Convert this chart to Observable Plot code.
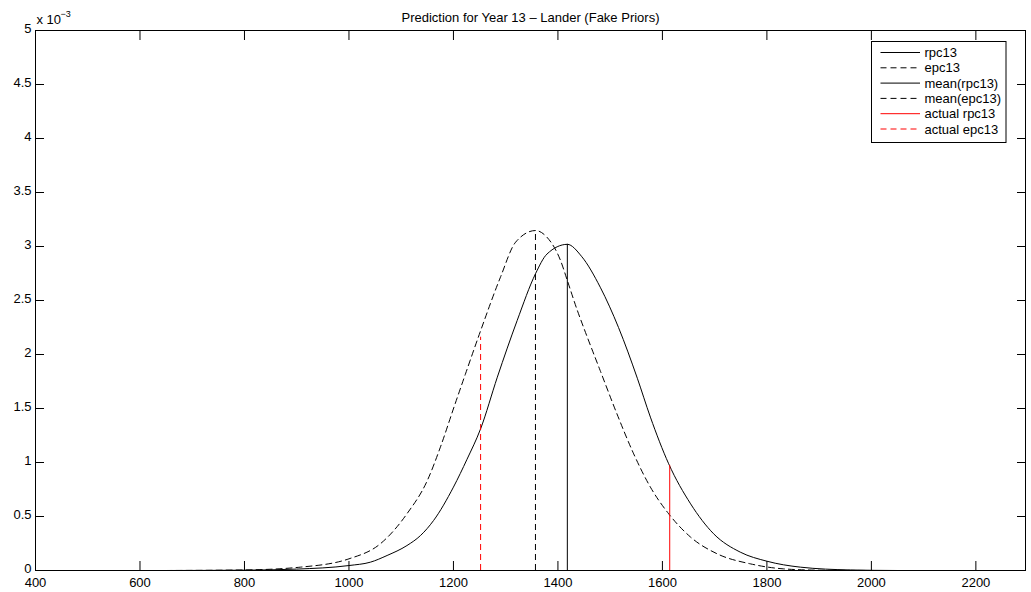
<!DOCTYPE html>
<html>
<head>
<meta charset="utf-8">
<script src="https://cdn.jsdelivr.net/npm/d3@7"></script>
<script src="https://cdn.jsdelivr.net/npm/@observablehq/plot@0.6"></script>
<style>
  html, body { margin: 0; padding: 0; background: #fff; }
  #wrap { position: relative; width: 1031px; height: 592px; font-family: "Liberation Sans", Arial, Helvetica, sans-serif; }
  #legend { position: absolute; left: 0; top: 0; pointer-events: none; }
</style>
</head>
<body>
<div id="wrap"></div>
<script>
// ---- data (density values in units of 1e-3) ----
const titleText = "Prediction for Year 13 \u2013 Lander (Fake Priors)";
const xTicks = [400, 600, 800, 1000, 1200, 1400, 1600, 1800, 2000, 2200];
const xTickLabels = ["400", "600", "800", "1000", "1200", "1400", "1600", "1800", "2000", "2200"];
const yTicks = [0, 0.5, 1, 1.5, 2, 2.5, 3, 3.5, 4, 4.5, 5];
const yTickLabels = ["0", "0.5", "1", "1.5", "2", "2.5", "3", "3.5", "4", "4.5", "5"];

const rpcX = [650, 800, 900, 1000, 1041, 1073, 1111, 1137, 1162, 1200, 1226, 1252, 1284, 1322, 1357, 1379, 1418, 1445, 1481, 1516, 1552, 1577, 1612, 1654, 1698, 1749, 1800, 1864, 1960, 2050];
const rpcY = [0, 0.003, 0.013, 0.046, 0.077, 0.139, 0.231, 0.324, 0.463, 0.772, 1.03, 1.312, 1.79, 2.315, 2.747, 2.93, 3.02, 2.91, 2.623, 2.25, 1.78, 1.42, 0.988, 0.617, 0.34, 0.17, 0.086, 0.031, 0.005, 0];

const epcX = [650, 800, 907, 1000, 1060, 1111, 1150, 1175, 1201, 1223, 1252, 1290, 1319, 1357, 1379, 1405, 1418, 1437, 1450, 1481, 1513, 1545, 1577, 1612, 1654, 1705, 1768, 1832, 1900, 2000];
const epcY = [0, 0.005, 0.031, 0.108, 0.247, 0.525, 0.833, 1.142, 1.512, 1.82, 2.22, 2.716, 3.04, 3.148, 3.086, 2.87, 2.685, 2.41, 2.24, 1.85, 1.45, 1.08, 0.772, 0.525, 0.309, 0.154, 0.062, 0.015, 0.003, 0];

const meanRpcX = 1418, meanRpcTop = 3.02;
const meanEpcX = 1357, meanEpcTop = 3.148;
const actualRpcX = 1614, actualRpcTop = 0.972;
const actualEpcX = 1252, actualEpcTop = 2.16;

const legendLabels = ["rpc13", "epc13", "mean(rpc13)", "mean(epc13)", "actual rpc13", "actual epc13"];

// ---- build tables ----
const rpc = rpcX.map((x, i) => ({x, y: rpcY[i]}));
const epc = epcX.map((x, i) => ({x, y: epcY[i]}));

const font = "Liberation Sans, Arial, Helvetica, sans-serif";
const dash = "6,4";

const chart = Plot.plot({
  width: 1031,
  height: 592,
  marginLeft: 35,
  marginRight: 6,
  marginTop: 30,
  marginBottom: 22,
  style: {fontFamily: font, fontSize: "13px", color: "black", background: "white", overflow: "visible"},
  x: {domain: [400, 2295]},
  y: {domain: [0, 5]},
  marks: [
    Plot.line(rpc, {x: "x", y: "y", stroke: "black", strokeWidth: 1, curve: "monotone-x"}),
    Plot.line(epc, {x: "x", y: "y", stroke: "black", strokeWidth: 1, strokeDasharray: dash, curve: "monotone-x"}),
    Plot.ruleX([meanRpcX], {x: d => d, y1: 0, y2: meanRpcTop, stroke: "black", strokeWidth: 1}),
    Plot.ruleX([meanEpcX], {x: d => d, y1: 0, y2: meanEpcTop, stroke: "black", strokeWidth: 1, strokeDasharray: dash}),
    Plot.ruleX([actualRpcX], {x: d => d, y1: 0, y2: actualRpcTop, stroke: "red", strokeWidth: 1}),
    Plot.ruleX([actualEpcX], {x: d => d, y1: 0, y2: actualEpcTop, stroke: "red", strokeWidth: 1, strokeDasharray: dash}),
    Plot.frame({stroke: "black", strokeWidth: 1}),
    Plot.axisX(xTicks, {anchor: "bottom", tickSize: -9, tickPadding: 16, tickFormat: (d) => xTickLabels[xTicks.indexOf(d)], label: null, fill: "black", stroke: "black"}),
    Plot.axisX(xTicks, {anchor: "top", tickSize: -9, tickFormat: () => "", label: null, stroke: "black"}),
    Plot.axisY(yTicks, {anchor: "left", tickSize: -9, tickFormat: () => "", label: null, stroke: "black"}),
    Plot.axisY(yTicks, {anchor: "left", tickSize: 0, tickPadding: 4, dy: -1.5, tickFormat: (d) => yTickLabels[yTicks.indexOf(d)], label: null, fill: "black", stroke: "none"}),
    Plot.axisY(yTicks, {anchor: "right", tickSize: -9, tickFormat: () => "", label: null, stroke: "black"}),
    Plot.text([titleText], {text: d => d, frameAnchor: "top", dy: -12.2, lineAnchor: "middle", fontSize: 13, fill: "black"}),
    Plot.text(["x 10"], {text: d => d, frameAnchor: "top-left", dx: 1, dy: -10.9, textAnchor: "start", lineAnchor: "middle", fontSize: 13, fill: "black"}),
    Plot.text(["\u22123"], {text: d => d, frameAnchor: "top-left", dx: 25, dy: -16.4, textAnchor: "start", lineAnchor: "middle", fontSize: 9, fill: "black"})
  ]
});
document.getElementById("wrap").appendChild(chart);

// ---- legend overlay ----
const legendStyles = [
  {stroke: "black", dash: null},
  {stroke: "black", dash: dash},
  {stroke: "black", dash: null},
  {stroke: "black", dash: dash},
  {stroke: "red", dash: null},
  {stroke: "red", dash: dash}
];
const lg = d3.select("#wrap").append("svg")
  .attr("id", "legend").attr("width", 1031).attr("height", 592);
lg.append("rect")
  .attr("x", 871.5).attr("y", 41.5).attr("width", 134.5).attr("height", 101)
  .attr("fill", "white").attr("stroke", "black").attr("stroke-width", 1);
legendLabels.forEach((label, i) => {
  const cy = 52.5 + i * 15.3;
  lg.append("line")
    .attr("x1", 880.5).attr("x2", 920).attr("y1", cy).attr("y2", cy)
    .attr("stroke", legendStyles[i].stroke).attr("stroke-width", 1)
    .attr("stroke-dasharray", legendStyles[i].dash);
  lg.append("text")
    .attr("x", 924.5).attr("y", cy).attr("dy", "0.35em")
    .attr("font-family", font).attr("font-size", 13).attr("fill", "black")
    .text(label);
});
</script>
</body>
</html>
